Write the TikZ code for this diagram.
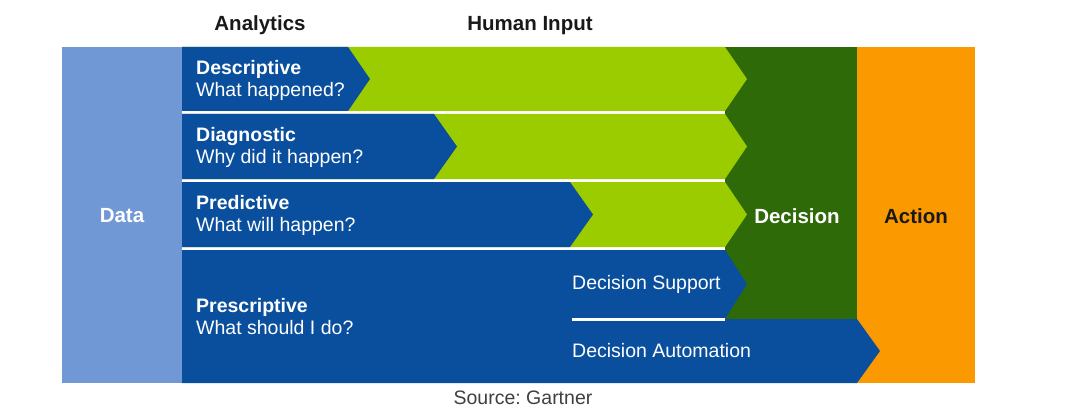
\documentclass[tikz,border=0pt]{standalone}
\usepackage{fontspec}
\setmainfont{Liberation Sans}
\usepackage{tikz}
\usetikzlibrary{positioning}
\definecolor{datablue}{HTML}{7098D4}
\definecolor{anablue}{HTML}{0A4E9E}
\definecolor{humangreen}{HTML}{9ACC00}
\definecolor{decisiongreen}{HTML}{2F6A08}
\definecolor{actionorange}{HTML}{FB9900}
\frenchspacing

\begin{document}
\begin{tikzpicture}
    [x=1pt, y=-1pt,
     every node/.style={inner sep=0pt, font=\fontsize{19.5}{22}\selectfont},
     head/.style={font=\fontsize{20.5}{22}\selectfont\bfseries, text=black!90},
     rowtext/.style={anchor=west, align=left, text=white}]
    \fill[white] (0,0) rectangle (1080,420);
    \useasboundingbox (0,0) rectangle (1080,420);

    % columns
    \fill[datablue] (62,47) rectangle (182,383);
    \fill[actionorange] (857,47) rectangle (975,383);
    \fill[decisiongreen] (725,47) rectangle (857,319);

    % human input
    \fill[humangreen] (182,47) -- (725,47) -- (747,79) -- (725,111) -- (182,111) -- cycle;
    \fill[humangreen] (182,114) -- (725,114) -- (747,146.5) -- (725,179) -- (182,179) -- cycle;
    \fill[humangreen] (182,182) -- (725,182) -- (747,214.5) -- (725,247) -- (182,247) -- cycle;

    % analytics
    \fill[anablue] (182,47) -- (348,47) -- (370,79) -- (348,111) -- (182,111) -- cycle;
    \fill[anablue] (182,114) -- (434,114) -- (457,146.5) -- (434,179) -- (182,179) -- cycle;
    \fill[anablue] (182,182) -- (570,182) -- (593,214.5) -- (570,247) -- (182,247) -- cycle;
    \fill[anablue] (182,250) -- (725,250) -- (747,284) -- (725,319) -- (857,319)
      -- (880,351) -- (857,383) -- (182,383) -- cycle;
    \draw[white, line width=3pt] (572,319) -- (725,319);

    \node (analytics) [head] at (260,25.5) {Analytics};
    \node (human) [head] at (530,25.5) {Human Input};
    \node (data) [head, text=white] at (122,216) {Data};
    \node (decision) [head, text=white] at (797,216) {Decision};
    \node (action) [head] at (916,216) {Action};

    \node (descriptive) [rowtext] at (196,80) {\textbf{Descriptive}\\What happened?};
    \node (diagnostic) [rowtext] at (196,147.5) {\textbf{Diagnostic}\\Why did it happen?};
    \node (predictive) [rowtext] at (196,215.5) {\textbf{Predictive}\\What will happen?};
    \node (prescriptive) [rowtext] at (196,317) {\textbf{Prescriptive}\\What should I do?};
    \node (support) [rowtext] at (572,284) {Decision Support};
    \node (automation) [rowtext] at (572,351) {Decision Automation};

    \node (source) [text=black!75] at (523,398) {Source: Gartner};
  \end{tikzpicture}
\end{document}
